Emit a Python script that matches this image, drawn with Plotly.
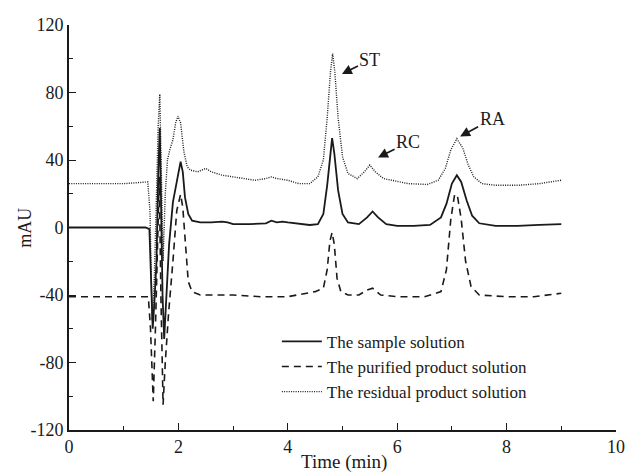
import plotly.graph_objects as go

# Tick labels
x_tick_vals = [0, 2, 4, 6, 8, 10]
x_tick_labels = ["0", "2", "4", "6", "8", "10"]
y_tick_vals = [-120, -80, -40, 0, 40, 80, 120]
y_tick_labels = ["-120", "-80", "-40", "0", "40", "80", "120"]

# Sample solution (solid)
t_sample = [0, 0.5, 1.0, 1.4, 1.47, 1.5, 1.53, 1.56, 1.6, 1.63, 1.66, 1.68, 1.71, 1.74, 1.78, 1.83,
            1.9, 1.97, 2.04, 2.08, 2.12, 2.18, 2.25, 2.4, 2.6, 2.8, 2.9, 3.0, 3.3, 3.6, 3.7, 3.8,
            3.9, 4.0, 4.2, 4.4, 4.55, 4.65, 4.72, 4.78, 4.81, 4.85, 4.92, 5.0, 5.1, 5.3, 5.45,
            5.55, 5.65, 5.8, 6.0, 6.3, 6.6, 6.8, 6.9, 7.0, 7.09, 7.17, 7.27, 7.37, 7.5, 7.8,
            8.2, 8.6, 9.0]
v_sample = [0, 0, 0, 0, -1, -30, -60, -45, -20, 30, 59, 20, -40, -66, -40, -10,
            15, 28, 39, 33, 18, 8, 4, 3, 3, 3.5, 3, 2, 2, 2.5, 4, 3,
            3.5, 3, 2.4, 1.5, 2, 8, 25, 45, 53, 44, 22, 8, 3, 2, 6,
            9.5, 6, 2, 1, 1, 1.5, 6, 14, 26, 31, 27, 16, 7, 2.5, 1,
            1, 1.5, 2]

# Purified product solution (dashed)
t_purified = [0, 0.5, 1.0, 1.45, 1.49, 1.54, 1.58, 1.62, 1.65, 1.68, 1.72, 1.76, 1.82, 1.9,
              1.97, 2.04, 2.08, 2.13, 2.18, 2.25, 2.4, 3.0, 3.5, 4.0, 4.5, 4.65, 4.72, 4.77,
              4.81, 4.85, 4.9, 4.97, 5.1, 5.3, 5.45, 5.55, 5.7, 6.0, 6.5, 6.8, 6.9, 6.98,
              7.05, 7.1, 7.17, 7.25, 7.35, 7.5, 8.0, 8.5, 8.8, 9.0]
v_purified = [-41, -41, -41, -41, -60, -103, -60, 0, 30, -40, -105, -80, -51, -20,
              10, 19.6, 12, -10, -32, -38, -40, -40, -41, -41, -38, -36, -25, -8,
              -3, -10, -30, -38, -40, -40, -37, -36, -40, -41, -41, -38, -25, 5,
              19.6, 19, 5, -20, -35, -40, -41, -41, -40, -39]

# Residual product solution (dotted)
t_residual = [0, 0.5, 1.0, 1.44, 1.48, 1.52, 1.56, 1.6, 1.63, 1.66, 1.69, 1.72, 1.76, 1.8,
              1.85, 1.9, 1.95, 1.99, 2.04, 2.1, 2.16, 2.22, 2.35, 2.5, 2.6, 2.8, 3.0, 3.4,
              3.6, 3.7, 3.8, 4.0, 4.2, 4.4, 4.55, 4.65, 4.72, 4.78, 4.82, 4.86, 4.92, 5.0,
              5.1, 5.27, 5.4, 5.5, 5.6, 5.75, 5.9, 6.2, 6.55, 6.75, 6.88, 6.98, 7.09, 7.2,
              7.3, 7.4, 7.55, 7.8, 8.2, 8.6, 9.0]
v_residual = [26, 26, 26, 27, 10, -55, -30, 20, 60, 79, 30, -20, 20, 40,
              47, 52, 62, 66, 62, 45, 36, 34, 33, 35, 33, 31, 30, 28,
              29, 30, 29, 28, 26, 26, 30, 40, 65, 92, 103, 92, 65, 42,
              32, 29, 33, 37, 33, 29, 28, 26, 25.5, 28, 35, 46, 52.6, 47,
              37, 30, 26, 25, 25, 26, 28]

# peak labels
peak_names = ["ST", "RC", "RA"]
peak_t = [4.99, 5.65, 7.15]
peak_v = [91, 41.5, 54]

ink = "#1a1a1a"
font_family = "Liberation Serif, Times New Roman, serif"
fs = 18

fig = go.Figure()
fig.add_trace(go.Scatter(x=t_sample, y=v_sample, mode="lines", name="The sample solution",
                         line=dict(color=ink, width=1.8)))
fig.add_trace(go.Scatter(x=t_purified, y=v_purified, mode="lines", name="The purified product solution",
                         line=dict(color=ink, width=1.6, dash="7px,5px")))
fig.add_trace(go.Scatter(x=t_residual, y=v_residual, mode="lines", name="The residual product solution",
                         line=dict(color=ink, width=1.4, dash="1px,1.3px")))

offs_x = [28, 30, 32]
offs_y = [-14, -15, -17]
for name, tx, vy, ox, oy in zip(peak_names, peak_t, peak_v, offs_x, offs_y):
    fig.add_annotation(x=tx, y=vy, text=name, showarrow=True, arrowhead=2, arrowsize=1.1,
                       arrowwidth=1.8, arrowcolor=ink, ax=ox, ay=oy,
                       font=dict(family=font_family, size=fs, color=ink))

# axis titles
fig.add_annotation(text="Time (min)", xref="paper", yref="paper", x=0.503, y=-0.079,
                   xanchor="center", yanchor="middle", showarrow=False,
                   font=dict(family=font_family, size=19, color=ink))
fig.add_annotation(text="mAU", xref="paper", yref="paper", x=-0.082, y=0.5, textangle=-90,
                   xanchor="center", yanchor="middle", showarrow=False,
                   font=dict(family=font_family, size=fs, color=ink))

axis_common = dict(showline=True, linecolor=ink, linewidth=1.6, ticks="inside", ticklen=7,
                   tickwidth=1.3, tickcolor=ink, showgrid=False, zeroline=False, mirror=False,
                   automargin=False,
                   tickfont=dict(family=font_family, size=fs, color=ink))

fig.update_xaxes(range=[0, 10], tickvals=x_tick_vals, ticktext=x_tick_labels,
                 minor=dict(tickvals=[1, 3, 5, 7, 9], ticklen=4, tickcolor=ink, ticks="inside"),
                 **axis_common)
fig.update_yaxes(range=[-120, 120], tickvals=y_tick_vals, ticktext=y_tick_labels,
                 minor=dict(tickvals=[-100, -60, -20, 20, 60, 100], ticklen=4, tickcolor=ink,
                            ticks="inside"),
                 **axis_common)

fig.update_layout(
    width=629, height=474,
    margin=dict(l=69, r=13, t=25, b=44),
    paper_bgcolor="white", plot_bgcolor="white",
    font=dict(family=font_family, size=fs, color=ink),
    legend=dict(x=0.38, y=0.262, xanchor="left", yanchor="top", bgcolor="rgba(0,0,0,0)",
                itemwidth=40,
                font=dict(family=font_family, size=17, color=ink), tracegroupgap=0),
)

fig.write_html("out.html", config={"displayModeBar": False},
               post_script="document.body.style.margin='0px';")
